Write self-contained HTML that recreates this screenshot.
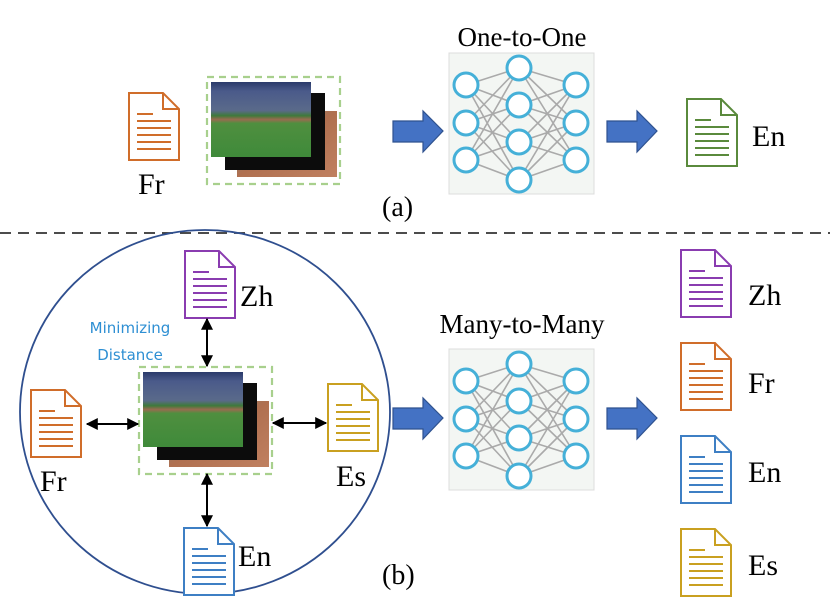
<!DOCTYPE html>
<html><head><meta charset="utf-8"><style>
body{margin:0;background:#fff}
svg{display:block}
text{font-family:"Liberation Serif",serif;fill:#000}
</style></head><body>
<svg width="830" height="613" viewBox="0 0 830 613" xmlns="http://www.w3.org/2000/svg">
<defs>
<linearGradient id="ph" x1="0" y1="0" x2="0" y2="1">
<stop offset="0" stop-color="#2a3a6a"/><stop offset="0.12" stop-color="#4a5a8a"/>
<stop offset="0.38" stop-color="#5a6a8a"/><stop offset="0.45" stop-color="#3f7a3a"/>
<stop offset="0.5" stop-color="#9a6a50"/><stop offset="0.55" stop-color="#4f8f3f"/>
<stop offset="1" stop-color="#3f8a3a"/></linearGradient>
<linearGradient id="ph3" x1="0" y1="0" x2="1" y2="1">
<stop offset="0" stop-color="#5a8a8a"/><stop offset="0.5" stop-color="#b07050"/><stop offset="1" stop-color="#c08060"/></linearGradient>
<g id="net">
<rect x="0" y="0" width="145" height="141" fill="#f3f6f3" stroke="#ddd"/>
<g stroke="#aaa" stroke-width="1.6">
<path d="M17 32L70 15M17 32L70 52M17 32L70 89M17 32L70 127M17 70L70 15M17 70L70 52M17 70L70 89M17 70L70 127M17 107L70 15M17 107L70 52M17 107L70 89M17 107L70 127"/>
<path d="M127 32L70 15M127 32L70 52M127 32L70 89M127 32L70 127M127 70L70 15M127 70L70 52M127 70L70 89M127 70L70 127M127 107L70 15M127 107L70 52M127 107L70 89M127 107L70 127"/>
</g>
<g fill="#fff" stroke="#45b0d8" stroke-width="3">
<circle cx="17" cy="32" r="12"/><circle cx="17" cy="70" r="12"/><circle cx="17" cy="107" r="12"/>
<circle cx="70" cy="15" r="12"/><circle cx="70" cy="52" r="12"/><circle cx="70" cy="89" r="12"/><circle cx="70" cy="127" r="12"/>
<circle cx="127" cy="32" r="12"/><circle cx="127" cy="70" r="12"/><circle cx="127" cy="107" r="12"/>
</g></g>
<g id="doc">
<path d="M1 1H35L51 17V68H1Z" fill="#fff" stroke="currentColor" stroke-width="2"/>
<path d="M35 1V17H51" fill="none" stroke="currentColor" stroke-width="2"/>
<g stroke="currentColor" stroke-width="2"><path d="M9 22H25M9 29H43M9 36H43M9 43H43M9 50H43M9 57H43"/></g>
</g>
<g id="imgs">
<rect x="0" y="0" width="133" height="107" fill="none" stroke="#a8d08d" stroke-width="2.2" stroke-dasharray="7,5"/>
<rect x="30" y="34" width="100" height="66" fill="url(#ph3)"/>
<rect x="18" y="16" width="100" height="77" fill="#0c0c0c"/>
<rect x="4" y="5" width="100" height="75" fill="url(#ph)"/>
</g>
<g id="arr"><path d="M0 10H30V0L50 20L30 41V31H0Z" fill="#4472c4" stroke="#2f528f" stroke-width="1.2"/></g>
<marker id="ah" viewBox="0 0 10 10" refX="9" refY="5" markerWidth="6" markerHeight="6" orient="auto-start-reverse"><path d="M0 0L10 5L0 10Z" fill="#000"/></marker>
</defs>

<!-- (a) -->
<text x="522" y="46" font-size="27" text-anchor="middle">One-to-One</text>
<use href="#doc" x="128" y="92" style="color:#d06d2a"/>
<text x="138" y="194" font-size="30">Fr</text>
<use href="#imgs" x="207" y="77"/>
<use href="#arr" x="393" y="111"/>
<use href="#net" x="449" y="53"/>
<use href="#arr" x="607" y="111"/>
<use href="#doc" x="686" y="98" style="color:#5a8a3c"/>
<text x="752" y="146" font-size="30">En</text>
<text x="382" y="216" font-size="28">(a)</text>

<line x1="0" y1="233" x2="830" y2="233" stroke="#333" stroke-width="1.8" stroke-dasharray="11,7"/>

<!-- (b) -->
<ellipse cx="205" cy="412" rx="185" ry="182" fill="none" stroke="#2f4f8f" stroke-width="1.8"/>
<use href="#doc" x="184" y="250" style="color:#8a3cb0"/>
<text x="240" y="306" font-size="30">Zh</text>
<text x="130" y="333" font-size="17" text-anchor="middle" style="fill:#2e8fd3;font-family:'DejaVu Sans','Liberation Sans',sans-serif;font-size:15px">Minimizing</text>
<text x="130" y="360" font-size="17" text-anchor="middle" style="fill:#2e8fd3;font-family:'DejaVu Sans','Liberation Sans',sans-serif;font-size:15px">Distance</text>
<use href="#imgs" x="139" y="367"/>
<use href="#doc" x="30" y="389" style="color:#d06d2a"/>
<text x="40" y="491" font-size="30">Fr</text>
<use href="#doc" x="327" y="383" style="color:#c9a020"/>
<text x="336" y="486" font-size="30">Es</text>
<use href="#doc" x="183" y="527" style="color:#3e7fc4"/>
<text x="238" y="566" font-size="30">En</text>
<g stroke="#000" stroke-width="2" marker-start="url(#ah)" marker-end="url(#ah)">
<line x1="207" y1="319" x2="207" y2="366"/>
<line x1="207" y1="474" x2="207" y2="526"/>
<line x1="87" y1="424" x2="138" y2="424"/>
<line x1="273" y1="423" x2="326" y2="423"/>
</g>
<text x="382" y="584" font-size="28">(b)</text>

<text x="522" y="333" font-size="27" text-anchor="middle">Many-to-Many</text>
<use href="#arr" x="393" y="398"/>
<use href="#net" x="449" y="349"/>
<use href="#arr" x="607" y="398"/>

<use href="#doc" x="680" y="249" style="color:#8a3cb0"/>
<text x="748" y="305" font-size="30">Zh</text>
<use href="#doc" x="680" y="342" style="color:#d06d2a"/>
<text x="748" y="393" font-size="30">Fr</text>
<use href="#doc" x="680" y="435" style="color:#3e7fc4"/>
<text x="748" y="482" font-size="30">En</text>
<use href="#doc" x="680" y="528" style="color:#c9a020"/>
<text x="748" y="575" font-size="30">Es</text>
</svg>
</body></html>
